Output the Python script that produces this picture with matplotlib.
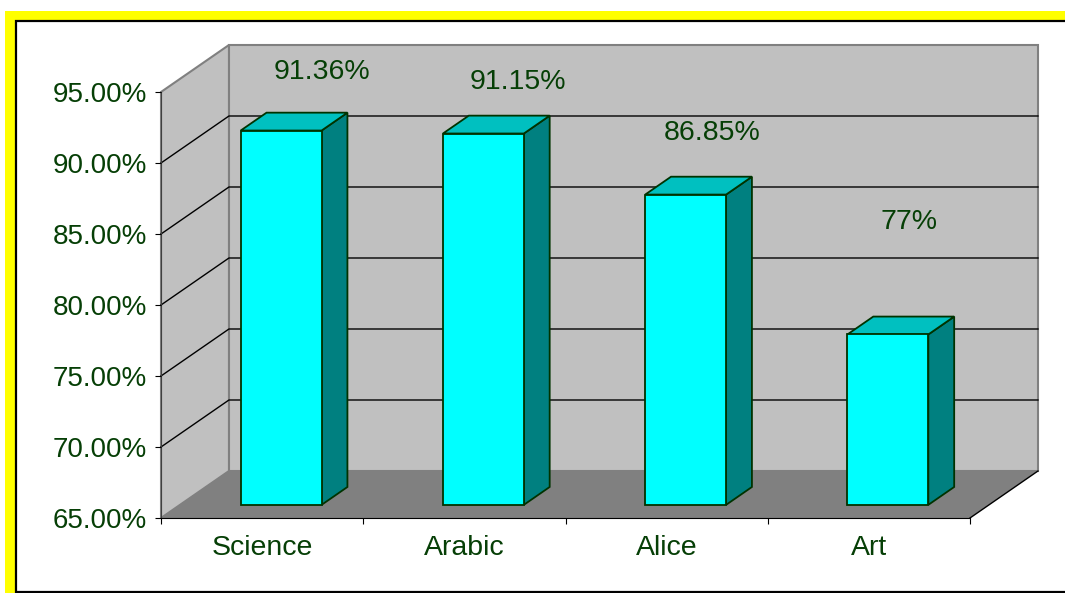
import matplotlib
matplotlib.use("Agg")
import matplotlib.pyplot as plt
from matplotlib.patches import Polygon, Rectangle

plt.rcParams['font.family'] = ['Liberation Sans', 'DejaVu Sans']

# --- Data
subjects = ["Science", "Arabic", "Alice", "Art"]
scores = [91.36, 91.15, 86.85, 77]
score_labels = ["91.36%", "91.15%", "86.85%", "77%"]
yticks = [65, 70, 75, 80, 85, 90, 95]

# --- Style / layout
txt = '#063F06'
ymin, ymax = 65, 95
dx, dy = 0.336, 3.31          # 3D depth offset (category units, percent units)
f0, f1 = 0.28, 0.66           # bar depth start/end as fraction of the depth
half_w = 0.2
lab_dx = [0.296, 0.265, 0.224, 0.198]
lab_dy = [5.04, 4.55, 5.26, 8.85]

W, H = 1065, 593
fig = plt.figure(figsize=(W / 100, H / 100), dpi=100)

# --- Frame (yellow border + black line)
bg = fig.add_axes([0, 0, 1, 1], zorder=-5)
bg.set_xlim(0, W)
bg.set_ylim(H, 0)
bg.axis('off')
bg.add_patch(Rectangle((5, 11), 1200, 700, facecolor='#FFFF00', edgecolor='none'))
bg.add_patch(Rectangle((16, 21), 1200, 571, facecolor='white', edgecolor='black', lw=1.6))

ax = fig.add_axes([161 / W, (H - 518) / H, 809 / W, 426 / H])
ax.set_xlim(-0.5, len(subjects) - 0.5)
ax.set_ylim(ymin, ymax)
ax.patch.set_visible(False)

# --- Walls and floor
x0, x1 = -0.5, len(subjects) - 0.5
ax.add_patch(Polygon([(x0 + dx, ymin + dy), (x1 + dx, ymin + dy), (x1 + dx, ymax + dy), (x0 + dx, ymax + dy)],
                     closed=True, facecolor='#C0C0C0', edgecolor='#808080', lw=1.5, zorder=0, clip_on=False))
ax.add_patch(Polygon([(x0, ymin), (x0 + dx, ymin + dy), (x0 + dx, ymax + dy), (x0, ymax)],
                     closed=True, facecolor='#C0C0C0', edgecolor='#808080', lw=1.5, zorder=0, clip_on=False))
ax.add_patch(Polygon([(x0, ymin), (x1, ymin), (x1 + dx, ymin + dy), (x0 + dx, ymin + dy)],
                     closed=True, facecolor='#808080', edgecolor='none', zorder=0.2, clip_on=False))
ax.plot([x1, x1 + dx], [ymin, ymin + dy], color='black', lw=1, zorder=0.3, clip_on=False)

# gridlines on side wall + back wall
for v in yticks[1:-1]:
    ax.plot([x0, x0 + dx, x1 + dx], [v, v + dy, v + dy], color='black', lw=1, zorder=0.5, clip_on=False)

# --- Bars
edge = '#003300'
for i, v in enumerate(scores):
    l = i - half_w + f0 * dx
    r = i + half_w + f0 * dx
    b = ymin + f0 * dy
    t = v + f0 * dy
    ddx = (f1 - f0) * dx
    ddy = (f1 - f0) * dy
    ax.add_patch(Polygon([(r, b), (r + ddx, b + ddy), (r + ddx, t + ddy), (r, t)], closed=True,
                         facecolor='#008080', edgecolor=edge, lw=1.3, zorder=2, clip_on=False))
    ax.add_patch(Polygon([(l, t), (r, t), (r + ddx, t + ddy), (l + ddx, t + ddy)], closed=True,
                         facecolor='#00C0C0', edgecolor=edge, lw=1.3, zorder=2, clip_on=False))
    ax.add_patch(Polygon([(l, b), (r, b), (r, t), (l, t)], closed=True,
                         facecolor='#00FFFF', edgecolor=edge, lw=1.3, zorder=3, clip_on=False))
    ax.text(i + lab_dx[i], v + lab_dy[i], score_labels[i], ha='center', va='center',
            fontsize=20.5, color=txt, zorder=5, clip_on=False)

# --- Axes
for s in ['top', 'right']:
    ax.spines[s].set_visible(False)
ax.spines['left'].set_color('#404040')
ax.spines['bottom'].set_color('black')
ax.spines['left'].set_zorder(1)

ax.set_yticks(yticks)
ax.set_yticklabels([f"{v:.2f}%" for v in yticks])
ax.tick_params(axis='y', length=4.5, width=0.8, color='black', pad=5.5, labelsize=20, labelcolor=txt)

ax.set_xticks([x0 + k for k in range(len(subjects) + 1)])
ax.set_xticklabels([])
ax.set_xticks(range(len(subjects)), minor=True)
ax.set_xticklabels(subjects, minor=True)
ax.tick_params(axis='x', which='major', length=4.5, width=0.8, color='black')
ax.tick_params(axis='x', which='minor', length=0, pad=12, labelsize=20.5, labelcolor=txt)

fig.savefig("out.png", dpi=100)
